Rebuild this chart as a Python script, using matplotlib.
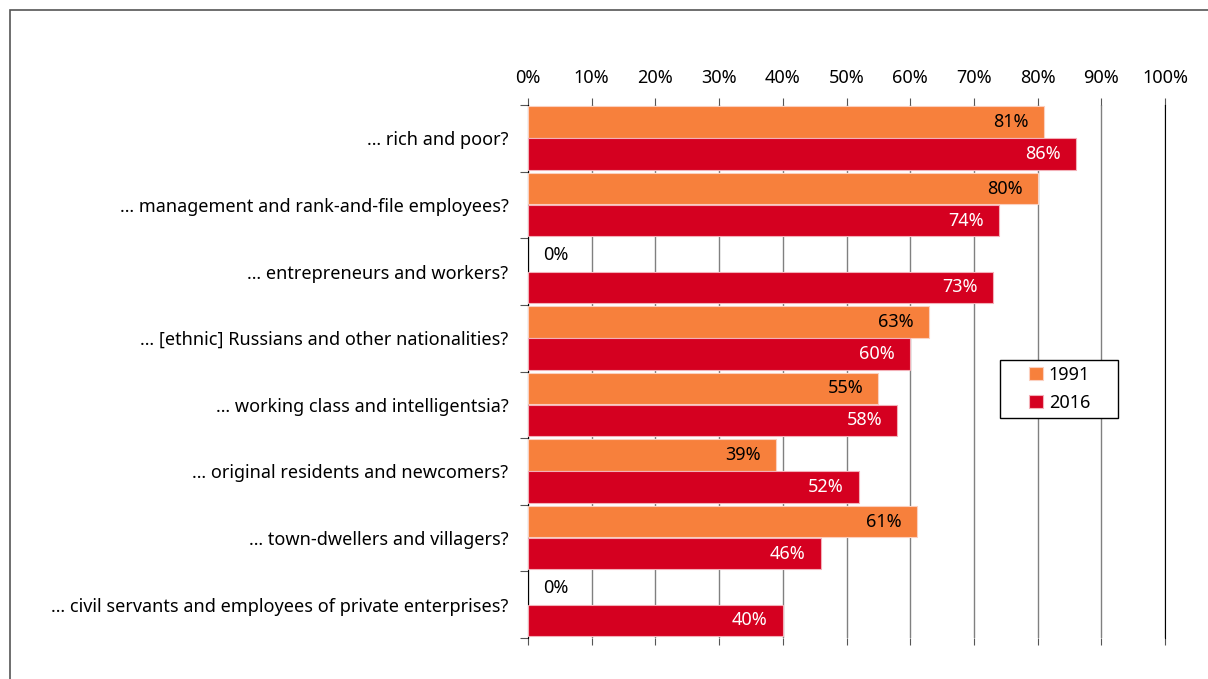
import matplotlib.pyplot as plt
from matplotlib.patches import Rectangle
import numpy as np

categories = ["… rich and poor?",
              "… management and rank-and-file employees?",
              "… entrepreneurs and workers?",
              "… [ethnic] Russians and other nationalities?",
              "… working class and intelligentsia?",
              "… original residents and newcomers?",
              "… town-dwellers and villagers?",
              "… civil servants and employees of private enterprises?"]
vals_1991 = [81, 80, 0, 63, 55, 39, 61, 0]
vals_2016 = [86, 74, 73, 60, 58, 52, 46, 40]
xticks = [0, 10, 20, 30, 40, 50, 60, 70, 80, 90, 100]

plt.rcParams['font.family'] = ['Noto Sans', 'DejaVu Sans']

W, H = 1208, 679
fig = plt.figure(figsize=(W/100, H/100), dpi=100)
ax = fig.add_axes([528/W, 1-638/H, 637/W, 533/H])

# outer frame (cut by the image edges)
fig.patches.append(Rectangle((10/W, -0.1), 1.2, 1-10/H+0.1, transform=fig.transFigure,
                             fill=False, edgecolor='#555555', linewidth=1.2))

y = np.arange(len(categories))
h = 0.47
orange = '#F7803C'
red = '#D50020'
lw91 = [0.8 if v > 0 else 0 for v in vals_1991]
ax.barh(y + 0.255, vals_1991, height=h, color=orange, edgecolor='#fbd0c0', linewidth=lw91, label='1991', zorder=3)
ax.barh(y + 0.735, vals_2016, height=h, color=red, edgecolor='#f3b0b8', linewidth=0.8, label='2016', zorder=3)

fs = 13
for i in range(len(categories)):
    v = vals_1991[i]
    if v == 0:
        ax.annotate("0%", (0, i + 0.255), xytext=(11, 0), textcoords='offset points',
                    ha='left', va='center', fontsize=fs, color='black', zorder=4)
    else:
        ax.annotate(f"{v}%", (v, i + 0.255), xytext=(-11, 0), textcoords='offset points',
                    ha='right', va='center', fontsize=fs, color='black', zorder=4)
    v = vals_2016[i]
    ax.annotate(f"{v}%", (v, i + 0.735), xytext=(-11, 0), textcoords='offset points',
                ha='right', va='center', fontsize=fs, color='white', zorder=4)

ax.set_xlim(0, 100)
ax.set_ylim(8, 0)
ax.set_xticks(xticks)
ax.set_xticklabels([f"{t}%" for t in xticks], fontsize=fs)
ax.xaxis.tick_top()
ax.tick_params(axis='x', which='both', top=True, bottom=True, labeltop=True, labelbottom=False,
               direction='out', length=5, color='#555555', pad=8)
ax.grid(axis='x', color='#808080', linewidth=1, zorder=0)

ax.set_yticks(np.arange(0, 9))
ax.set_yticklabels([])
ax.set_yticks(y + 0.5, minor=True)
ax.set_yticklabels(categories, minor=True, fontsize=fs)
ax.tick_params(axis='y', which='major', direction='out', length=6, color='#555555')
ax.tick_params(axis='y', which='minor', length=0, pad=14)

for s in ['top', 'bottom']:
    ax.spines[s].set_visible(False)
ax.spines['left'].set_color('black')
ax.spines['right'].set_color('black')

# legend box
ax.add_patch(Rectangle((1000/W, 1-418/H), 118/W, 58/H, transform=fig.transFigure, clip_on=False,
                       facecolor='white', edgecolor='black', linewidth=1, zorder=5))
leg = ax.legend(loc='upper left', bbox_to_anchor=(1029/W, 1-366/H), bbox_transform=fig.transFigure,
                borderaxespad=0, borderpad=0, fontsize=fs, frameon=False,
                handlelength=0.75, handleheight=0.75, handletextpad=0.35, labelspacing=0.55)
leg.set_zorder(6)

fig.savefig("out.png", dpi=100)
